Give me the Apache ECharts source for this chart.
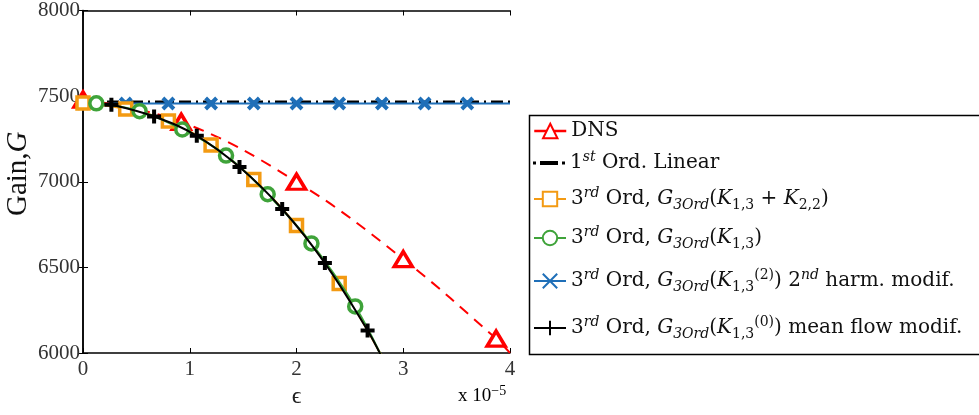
<!DOCTYPE html>
<html>
<head>
<meta charset="utf-8">
<script src="https://cdn.jsdelivr.net/npm/echarts@6/dist/echarts.min.js"></script>
<style>
  html, body { margin: 0; padding: 0; background: #fff; }
  #chart { width: 979px; height: 415px; }
</style>
</head>
<body>
<div id="chart"></div>
<script>
// values, epsilon in units of 1e-5
var dnsEps = [0, 0.92, 2, 3, 3.87, 4];
var dnsGain = [7480, 7350, 7000, 6548, 6084, 6000];

var linEps = [0, 4];
var linGain = [7466, 7466];

var k1322Eps = [0, 0.4, 0.8, 1.2, 1.6, 2.0, 2.4, 2.8];
var k1322Gain = [7460, 7425, 7355, 7214, 7013, 6745, 6406, 5980];

var k13Eps = [0.125, 0.53, 0.93, 1.34, 1.73, 2.14, 2.55, 2.8];
var k13Gain = [7458, 7412, 7305, 7153, 6927, 6640, 6272, 5975];

var harmEps = [0, 0.4, 0.8, 1.2, 1.6, 2.0, 2.4, 2.8, 3.2, 3.6, 4.0];
var harmGain = [7457, 7457, 7457, 7457, 7457, 7457, 7457, 7457, 7457, 7457, 7457];

var meanEps = [0.266, 0.666, 1.066, 1.466, 1.866, 2.266, 2.666, 2.8];
var meanGain = [7450, 7381, 7268, 7086, 6841, 6525, 6132, 5975];

var xTicks = ['0', '1', '2', '3', '4'];

var FONT = 'Liberation Serif';
var LFONT = 'DejaVu Serif';
var RED = '#ff0000', ORANGE = '#f39a12', GREEN = '#3fa33a', BLUE = '#1f6fb8';

// only the marker points get a symbol, the trailing point just extends the curve
function pts(xs, ys, lastPlain) {
  return xs.map(function (x, i) {
    var d = { value: [x, ys[i]] };
    if (lastPlain && i === xs.length - 1) d.symbol = 'none';
    return d;
  });
}

function tok(size, lh, extra) {
  var s = { fontFamily: LFONT, fontSize: size, lineHeight: lh, color: '#111' };
  for (var k in extra) s[k] = extra[k];
  return s;
}
var rich = {
  n: tok(20, 26, {}),
  i: tok(20, 26, { fontStyle: 'italic' }),
  sup: tok(14, 14, { verticalAlign: 'top' }),
  isup: tok(14, 14, { verticalAlign: 'top', fontStyle: 'italic' }),
  sub: tok(14, 14, { verticalAlign: 'bottom' }),
  isub: tok(14, 14, { verticalAlign: 'bottom', fontStyle: 'italic' })
};

var G3 = '{i|G}{isub|3Ord}{n|(}';
var labels = {
  dns: '{n|DNS}',
  lin: '{n|1}{isup|st}{n| Ord. Linear}',
  k1322: '{n|3}{isup|rd}{n| Ord, }' + G3 + '{i|K}{sub|1,3}{n| + }{i|K}{sub|2,2}{n|)}',
  k13: '{n|3}{isup|rd}{n| Ord, }' + G3 + '{i|K}{sub|1,3}{n|)}',
  harm: '{n|3}{isup|rd}{n| Ord, }' + G3 + '{i|K}{sub|1,3}{sup|(2)}{n|) 2}{isup|nd}{n| harm. modif.}',
  mean: '{n|3}{isup|rd}{n| Ord, }' + G3 + '{i|K}{sub|1,3}{sup|(0)}{n|) mean flow modif.}'
};
var rowY = { dns: 134, lin: 163, k1322: 199, k13: 238, harm: 281, mean: 328 };

var legends = Object.keys(labels).map(function (name) {
  var item = { name: name };
  var lg = {
    data: [item],
    left: 533,
    top: rowY[name] - 13,
    padding: 0,
    itemWidth: 32,
    itemHeight: 18,
    itemGap: 6,
    textStyle: { fontFamily: LFONT, fontSize: 20, color: '#111', rich: rich },
    formatter: function (n) { return labels[n]; }
  };
  if (name === 'dns') lg.lineStyle = { type: 'solid', width: 2.5 };
  if (name === 'lin') {
    // dot, dash, dot as in the original key
    item.icon = 'path://M0,0.5h3v3h-3zM7,0h18v4h-18zM29,0.5h3v3h-3z';
  }
  return lg;
});

var myChart = echarts.init(document.getElementById('chart'));

var option = {
  animation: false,
  backgroundColor: '#fff',
  grid: { left: 83, right: 469, top: 5, bottom: 62 },
  legend: legends,
  xAxis: [{
    type: 'value', min: 0, max: 4, interval: 1,
    name: 'ϵ', nameLocation: 'middle', nameGap: 23,
    nameTextStyle: { fontFamily: FONT, fontSize: 24, color: '#222' },
    axisLine: { lineStyle: { color: '#000', width: 1.5 } },
    axisTick: { inside: true, length: 5, lineStyle: { color: '#000' } },
    axisLabel: {
      fontFamily: FONT, fontSize: 21, color: '#333', margin: 6,
      formatter: function (v) { return xTicks[Math.round(v)]; }
    },
    splitLine: { show: false }
  }, {
    type: 'value', min: 0, max: 4, interval: 1, position: 'top',
    axisLine: { lineStyle: { color: '#000', width: 1.5 } },
    axisTick: { inside: true, length: 5, lineStyle: { color: '#000' } },
    axisLabel: { show: false }, splitLine: { show: false }
  }],
  yAxis: [{
    type: 'value', min: 6000, max: 8000, interval: 500,
    name: '{n|Gain,}{i|G}', nameLocation: 'middle', nameGap: 50,
    nameTextStyle: {
      padding: [0, 0, 0, 16],
      rich: {
        n: { fontFamily: FONT, fontSize: 29, color: '#111' },
        i: { fontFamily: FONT, fontSize: 29, fontStyle: 'italic', color: '#111' }
      }
    },
    axisLine: { lineStyle: { color: '#000', width: 1.5 } },
    axisTick: { inside: true, length: 5, lineStyle: { color: '#000' } },
    axisLabel: {
      fontFamily: FONT, fontSize: 21, color: '#333', margin: 3,
      formatter: function (v) { return String(v); }
    },
    splitLine: { show: false }
  }, {
    type: 'value', min: 6000, max: 8000, interval: 500, position: 'right',
    axisLine: { lineStyle: { color: '#000', width: 1.5 } },
    axisTick: { inside: true, length: 5, lineStyle: { color: '#000' } },
    axisLabel: { show: false }, splitLine: { show: false }
  }],
  graphic: [{
    type: 'rect', left: 527, top: 113, z: 100,
    shape: { width: 451, height: 239 },
    style: { fill: 'none', stroke: '#000', lineWidth: 1.5 }
  }, {
    type: 'text', left: 458, top: 384, z: 100,
    style: {
      text: '{n|x 10}{sup|−5}',
      rich: {
        n: { fontFamily: FONT, fontSize: 19, color: '#333', lineHeight: 24 },
        sup: { fontFamily: FONT, fontSize: 14, color: '#333', verticalAlign: 'top', lineHeight: 14 }
      }
    }
  }],
  series: [{
    name: 'lin', type: 'line', data: pts(linEps, linGain, false), z: 2,
    symbol: 'none', color: '#000',
    lineStyle: { color: '#000', width: 3, type: [12, 5, 2, 5] }
  }, {
    name: 'harm', type: 'line', data: pts(harmEps, harmGain, true), z: 3,
    symbol: 'path://M0,0L10,10M10,0L0,10', symbolSize: 11, color: BLUE,
    itemStyle: { color: BLUE, borderColor: BLUE, borderWidth: 4 },
    lineStyle: { color: BLUE, width: 1.8 }
  }, {
    name: 'dns', type: 'line', data: pts(dnsEps, dnsGain, true), z: 4, smooth: 0.4,
    symbol: 'triangle', symbolSize: [18, 15], color: RED,
    itemStyle: { color: '#fff', borderColor: RED, borderWidth: 3.5 },
    lineStyle: { color: RED, width: 2, type: [11, 8] }
  }, {
    name: 'k1322', type: 'line', data: pts(k1322Eps, k1322Gain, true), z: 5, smooth: 0.4,
    symbol: 'rect', symbolSize: 12, color: ORANGE,
    itemStyle: { color: '#fff', borderColor: ORANGE, borderWidth: 3.5 },
    lineStyle: { color: ORANGE, width: 2 }
  }, {
    name: 'k13', type: 'line', data: pts(k13Eps, k13Gain, true), z: 6, smooth: 0.4,
    symbol: 'circle', symbolSize: 13, color: GREEN,
    itemStyle: { color: '#fff', borderColor: GREEN, borderWidth: 3.5 },
    lineStyle: { color: GREEN, width: 2 }
  }, {
    name: 'mean', type: 'line', data: pts(meanEps, meanGain, true), z: 7, smooth: 0.4,
    symbol: 'path://M5,0L5,10M0,5L10,5', symbolSize: 14, color: '#000',
    itemStyle: { color: '#000', borderColor: '#000', borderWidth: 4 },
    lineStyle: { color: '#000', width: 2 }
  }]
};

myChart.setOption(option);
</script>
</body>
</html>
